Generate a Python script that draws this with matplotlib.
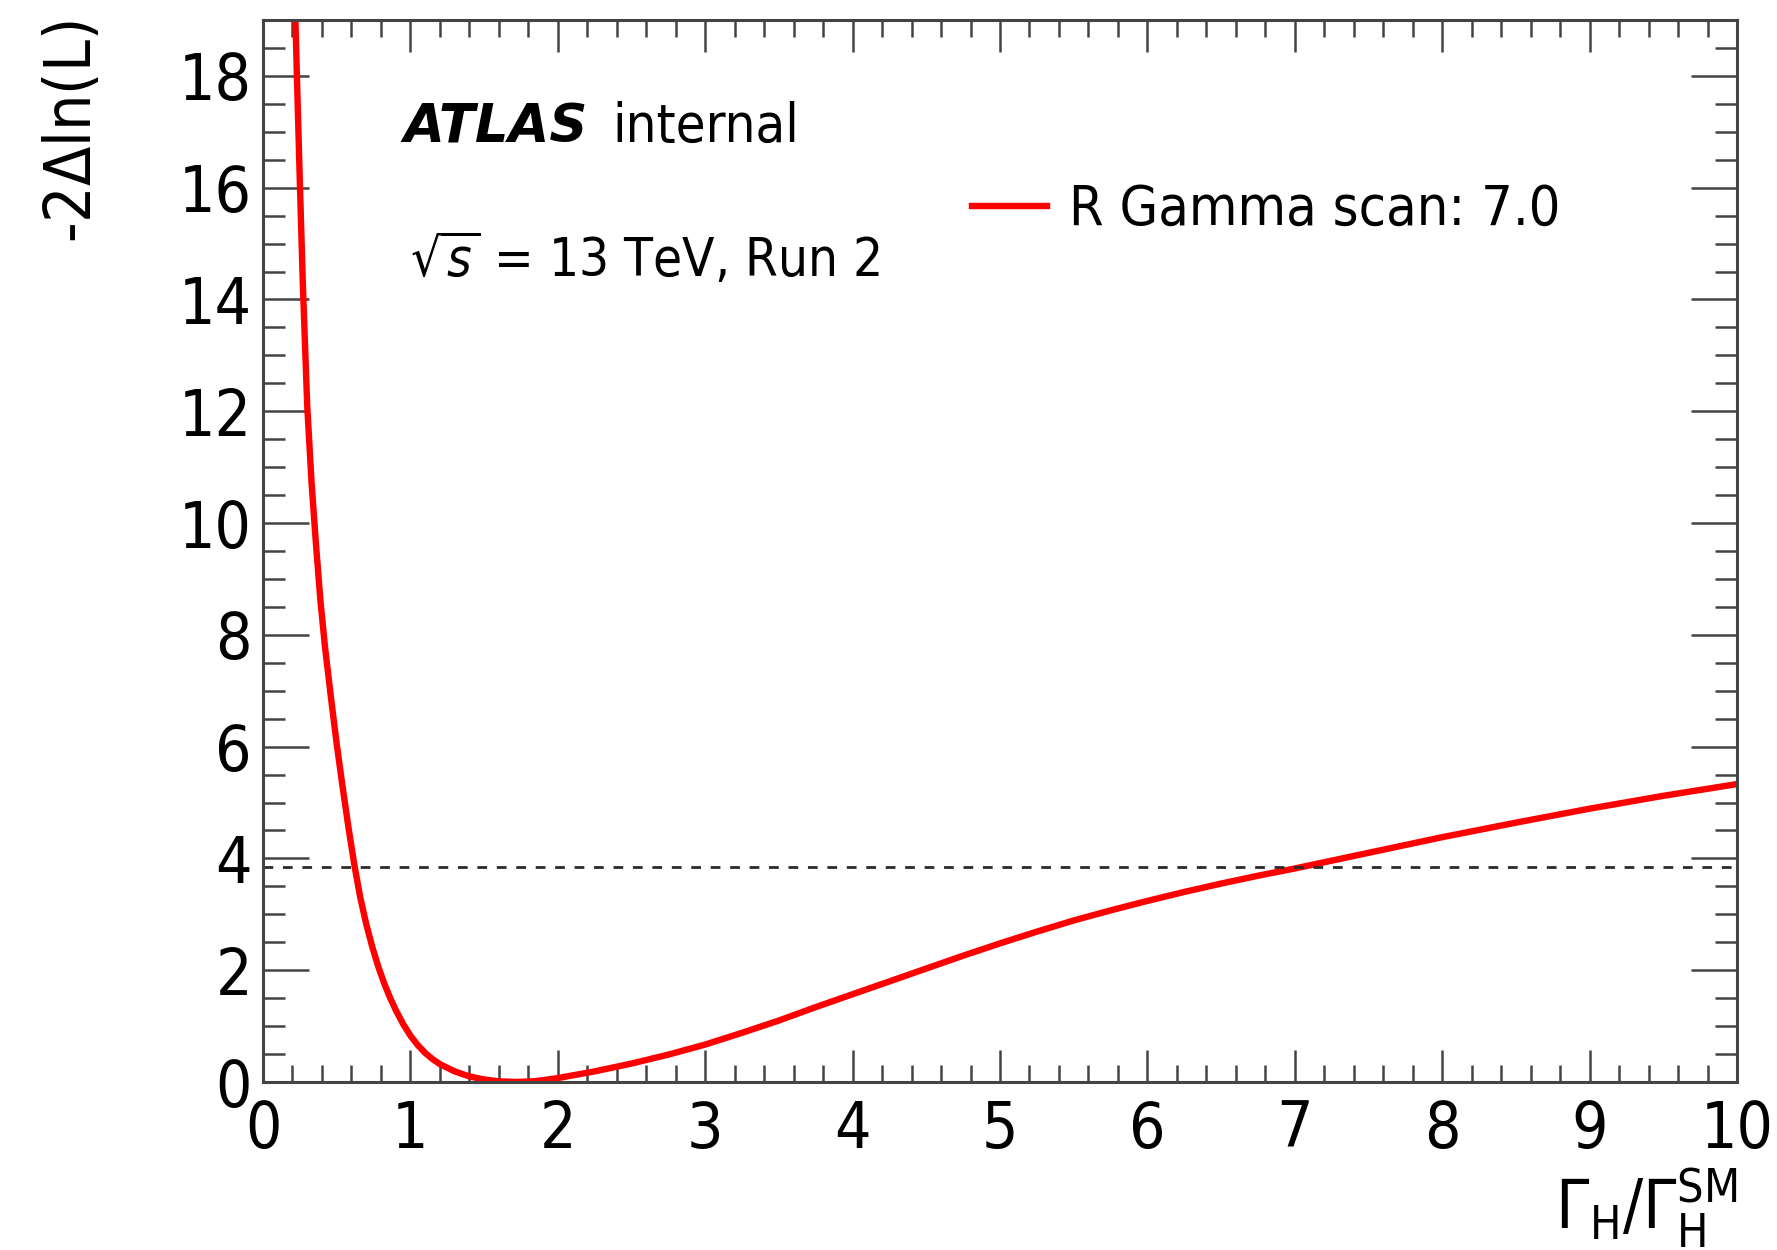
import numpy as np
import matplotlib
matplotlib.use("Agg")
import matplotlib.pyplot as plt
from matplotlib.ticker import MultipleLocator

# likelihood scan of the Higgs width ratio
gamma_ratio = [0.20, 0.22, 0.23, 0.25, 0.27, 0.30, 0.33, 0.36, 0.39, 0.42,
               0.46, 0.50, 0.54, 0.58, 0.62, 0.66, 0.70, 0.74, 0.78, 0.82,
               0.86, 0.90, 0.95, 1.00, 1.05, 1.10, 1.15, 1.20, 1.30, 1.40,
               1.50, 1.60, 1.72, 1.85, 2.00, 2.25, 2.50, 2.75, 3.00, 3.25,
               3.50, 3.75, 4.00, 4.25, 4.50, 4.75, 5.00, 5.25, 5.50, 5.75,
               6.00, 6.25, 6.50, 6.75, 7.00, 7.50, 8.00, 8.50, 9.00, 9.50,
               10.0]
nll = [21.5, 19.0, 18.0, 16.1, 14.3, 12.1, 10.7, 9.6, 8.6, 7.8,
       6.9, 6.05, 5.28, 4.55, 3.88, 3.30, 2.83, 2.43, 2.08, 1.78,
       1.52, 1.29, 1.04, 0.83, 0.66, 0.52, 0.41, 0.32, 0.19, 0.10,
       0.045, 0.012, 0.0, 0.015, 0.07, 0.19, 0.33, 0.49, 0.67, 0.88,
       1.10, 1.34, 1.57, 1.80, 2.03, 2.26, 2.48, 2.69, 2.89, 3.07,
       3.24, 3.40, 3.55, 3.69, 3.82, 4.10, 4.38, 4.64, 4.89, 5.12,
       5.33]
threshold = 3.84
scan_label = "R Gamma scan: 7.0"

plt.rcParams["font.family"] = "DejaVu Sans"
plt.rcParams["font.stretch"] = "condensed"
plt.rcParams["mathtext.fontset"] = "dejavusans"

fig = plt.figure(figsize=(17.77, 12.5), dpi=100)
ax = fig.add_axes([0.148, 0.1344, 0.8295, 0.8496])

ax.plot(gamma_ratio, nll, color="#ff0000", lw=4.6, label=scan_label,
        solid_joinstyle="round")
ax.axhline(threshold, color="#2a2a2a", lw=2.0, ls=(0, (3.5, 3.5)))

ax.set_xlim(0, 10)
ax.set_ylim(0, 19)

ax.xaxis.set_major_locator(MultipleLocator(1))
ax.xaxis.set_minor_locator(MultipleLocator(0.2))
ax.yaxis.set_major_locator(MultipleLocator(2))
ax.yaxis.set_minor_locator(MultipleLocator(0.5))

ax.tick_params(axis="both", which="both", direction="in", top=True, right=True,
               color="#444444", width=1.8, labelsize=46)
ax.tick_params(axis="x", which="major", length=23, pad=12)
ax.tick_params(axis="x", which="minor", length=12)
ax.tick_params(axis="y", which="major", length=33, pad=8)
ax.tick_params(axis="y", which="minor", length=16)
for sp in ax.spines.values():
    sp.set_color("#444444")
    sp.set_linewidth(2.2)

ax.set_ylabel(r"-2$\Delta$ln(L)", fontsize=46, loc="top", labelpad=54)
ax.set_xlabel(r"$\Gamma_{\mathrm{H}}/\Gamma_{\mathrm{H}}^{\mathrm{SM}}$",
              fontsize=48, loc="right", labelpad=4)

ax.text(0.095, 0.885, "ATLAS", transform=ax.transAxes, fontsize=38,
        fontweight="bold", fontstyle="italic", fontstretch="normal")
ax.text(0.237, 0.885, "internal", transform=ax.transAxes, fontsize=39)
ax.text(0.100, 0.758, r"$\sqrt{s}$ = 13 TeV, Run 2", transform=ax.transAxes,
        fontsize=38)

ax.legend(loc="center left", bbox_to_anchor=(0.481, 0.821), frameon=False,
          fontsize=40, handlelength=1.35, handletextpad=0.4, borderpad=0,
          borderaxespad=0)

fig.savefig("out.png", dpi=100)
